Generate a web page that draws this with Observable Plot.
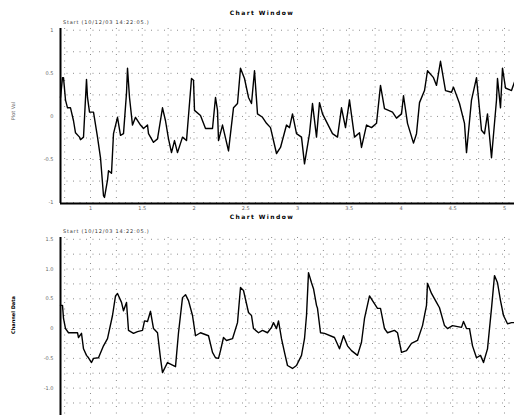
<!DOCTYPE html>
<html><head><meta charset="utf-8">
<script src="https://cdn.jsdelivr.net/npm/d3@7"></script>
<script src="https://cdn.jsdelivr.net/npm/@observablehq/plot@0.6"></script>
<style>
body{margin:0;background:#fff;width:514px;height:415px;overflow:hidden;font-family:"DejaVu Sans",sans-serif;}
#wrap{position:relative;width:514px;height:415px;overflow:hidden;}
#wrap svg{position:absolute;left:0;}
.title{position:absolute;left:5px;width:514px;text-align:center;font-size:6px;font-weight:bold;letter-spacing:1.4px;color:#000;}
.hdr{position:absolute;left:63px;font-size:5px;color:#333;letter-spacing:0.8px;white-space:nowrap;}
.ylab{position:absolute;font-size:5px;transform:rotate(-90deg);transform-origin:center;white-space:nowrap;text-align:center;width:60px;}
</style></head>
<body><div id="wrap"></div>
<script>
// ---- data (sample index, value) ----
const topSample = [0,2,3,5,7,10,13,15,19,20,23,26,27,29,33,37,40,43,44,47,48,51,53,57,60,63,66,67,69,72,75,80,83,87,88,93,97,102,105,108,111,114,117,122,126,131,133,134,140,145,152,155,157,158,162,168,173,177,180,184,188,191,194,197,202,206,210,216,220,226,229,232,236,241,244,249,252,256,259,262,272,277,281,285,289,294,299,301,306,311,316,320,324,332,336,341,343,347,353,356,359,364,367,373,376,380,385,391,393,399,404,406,411,416,421,424,427,431,436,437,440,442,445,451,454];
const topValue = [0.22,0.45,0.45,0.19,0.10,0.10,-0.05,-0.19,-0.24,-0.27,-0.24,0.43,0.22,0.05,0.05,-0.24,-0.48,-0.92,-0.94,-0.74,-0.63,-0.66,-0.20,-0.01,-0.22,-0.20,0.27,0.56,0.22,-0.10,-0.01,-0.10,-0.14,-0.10,-0.20,-0.30,-0.26,0.10,-0.05,-0.26,-0.42,-0.28,-0.42,-0.24,-0.28,0.44,0.42,0.07,0.01,-0.14,-0.14,0.22,0.07,-0.28,-0.10,-0.40,0.10,0.15,0.56,0.44,0.22,0.15,0.53,0.03,-0.01,-0.08,-0.13,-0.43,-0.36,-0.10,-0.13,0.03,-0.20,-0.24,-0.55,-0.20,0.15,-0.24,0.16,0.03,-0.20,-0.24,0.10,-0.13,0.19,-0.24,-0.19,-0.36,-0.10,-0.13,-0.08,0.36,0.09,0.05,-0.02,0.03,0.24,-0.08,-0.31,-0.20,0.16,0.30,0.53,0.45,0.36,0.64,0.30,0.28,0.34,0.15,-0.08,-0.42,0.19,0.45,-0.16,-0.20,0.03,-0.48,0.19,0.44,0.10,0.56,0.33,0.30,0.40];

const bottomSample = [0,2,3,5,8,17,18,21,23,26,28,31,33,38,43,47,52,55,57,61,63,66,68,73,77,82,84,87,90,93,97,100,102,107,115,118,122,125,128,132,135,140,148,152,155,158,160,163,166,172,177,180,183,188,191,193,198,202,207,211,213,216,218,221,224,227,232,236,241,244,246,248,251,253,256,257,260,264,274,279,283,287,291,297,301,304,309,312,317,320,324,327,334,337,341,346,351,357,362,366,367,371,376,379,384,387,392,401,403,406,409,412,416,420,423,427,431,434,437,440,443,447,451,454];
const bottomValue = [0.39,0.39,0.17,0,-0.07,-0.07,-0.15,-0.08,-0.34,-0.45,-0.49,-0.57,-0.50,-0.49,-0.29,-0.17,0.22,0.55,0.59,0.44,0.30,0.44,-0.03,-0.08,-0.05,-0.03,0.13,0.12,0.29,0,-0.07,-0.50,-0.74,-0.57,-0.64,-0.07,0.52,0.57,0.47,0.22,-0.12,-0.07,-0.12,-0.40,-0.49,-0.50,-0.37,-0.15,-0.20,-0.17,0.10,0.69,0.64,0.27,0.22,0,-0.07,-0.03,-0.07,0.02,0.10,0,0.13,-0.17,-0.40,-0.62,-0.67,-0.62,-0.45,-0.17,0.22,0.94,0.77,0.67,0.39,0.34,-0.07,-0.08,-0.15,-0.34,-0.12,-0.29,-0.37,-0.45,-0.23,0.17,0.55,0.47,0.34,0.34,0,-0.07,-0.03,-0.07,-0.40,-0.37,-0.25,-0.20,0.05,0.39,0.76,0.59,0.44,0.35,0.05,0,0.05,0.02,0.12,0,0,-0.29,-0.49,-0.45,-0.57,-0.34,0.34,0.89,0.77,0.47,0.22,0.08,0.10,0.10];

const xTickPos = [30, 81.75, 133.5, 185.25, 237, 288.75, 340.5, 392.25, 444];
const xTickLabels = ["1","1.5","2","2.5","3","3.5","4","4.5","5"];
const topYTicks = [1, 0.5, 0, -0.5, -1];
const topYLabels = ["1","0.5","0","-0.5","-1"];
const bottomYTicks = [1.5, 1, 0.5, 0, -0.5, -1];
const bottomYLabels = ["1.5","1.0","0.5","0","-0.5","-1.0"];
const titles = ["Chart Window", "Chart Window"];
const headers = ["Start  (10/12/03 14:22:05.)", "Start  (10/12/03 14:22:05.)"];
const yTitles = ["Plot Val", "Channel Data"];

// ---- build ----
const topData = topSample.map((s, i) => ({s, v: topValue[i]}));
const bottomData = bottomSample.map((s, i) => ({s, v: bottomValue[i]}));
const xLab = new Map(xTickPos.map((p, i) => [p, xTickLabels[i]]));
const tyLab = new Map(topYTicks.map((p, i) => [p, topYLabels[i]]));
const byLab = new Map(bottomYTicks.map((p, i) => [p, bottomYLabels[i]]));
const xStep = (xTickPos[1] - xTickPos[0]) / 2;
const xGrid = d3.range(xTickPos[0] - xStep, 454, xStep).filter(d => d > 0);
const xDomain = [0, 454];
const topDom = [-1.01, 1.02];
const botDom = [-1.46, 1.53];
const gridStyle = {stroke: "#000", strokeOpacity: 0.45, strokeDasharray: "1,5.5", strokeWidth: 1};

const chartTop = Plot.plot({
  width: 514, height: 215,
  marginLeft: 60, marginRight: 0, marginTop: 28, marginBottom: 12,
  style: {background: "transparent", overflow: "visible", fontFamily: "DejaVu Sans"},
  x: {domain: xDomain}, y: {domain: topDom},
  marks: [
    Plot.gridX(xGrid, gridStyle),
    Plot.gridY(d3.range(-1, 1.01, 0.25), gridStyle),
    Plot.axisX(xTickPos, {tickFormat: d => xLab.get(d), tickSize: 0, tickPadding: 3, fontSize: 5, fill: "#666", label: null}),
    Plot.axisY(topYTicks, {tickFormat: d => tyLab.get(d), tickSize: 0, tickPadding: 7, fontSize: 5, fill: "#666", label: null}),
    Plot.line(topData, {x: "s", y: "v", stroke: "#000", strokeWidth: 1.4}),
    Plot.ruleX([xDomain[0]], {stroke: "#000", strokeWidth: 2}),
    Plot.ruleY([topDom[0]], {stroke: "#000", strokeWidth: 2})
  ]
});
chartTop.style.top = "0px";

const chartBottom = Plot.plot({
  width: 514, height: 200,
  marginLeft: 60, marginRight: 0, marginTop: 22, marginBottom: 0,
  style: {background: "transparent", overflow: "visible", fontFamily: "DejaVu Sans"},
  x: {domain: xDomain, axis: null}, y: {domain: botDom},
  marks: [
    Plot.gridX(xGrid, gridStyle),
    Plot.gridY(d3.range(-1.25, 1.51, 0.25), gridStyle),
    Plot.axisY(bottomYTicks, {tickFormat: d => byLab.get(d), tickSize: 0, tickPadding: 7, fontSize: 5, fill: "#666", label: null}),
    Plot.line(bottomData, {x: "s", y: "v", stroke: "#000", strokeWidth: 1.4}),
    Plot.ruleX([xDomain[0]], {stroke: "#000", strokeWidth: 2})
  ]
});
chartBottom.style.top = "215px";

const wrap = document.getElementById("wrap");
wrap.appendChild(chartTop);
wrap.appendChild(chartBottom);

function addDiv(cls, text, css) {
  const d = document.createElement("div");
  d.className = cls; d.textContent = text;
  Object.assign(d.style, css);
  wrap.appendChild(d);
}
addDiv("title", titles[0], {top: "9px"});
addDiv("title", titles[1], {top: "213px"});
addDiv("hdr", headers[0], {top: "19px"});
addDiv("hdr", headers[1], {top: "228px"});
addDiv("ylab", yTitles[0], {left: "-17px", top: "108px", color: "#666"});
addDiv("ylab", yTitles[1], {left: "-17px", top: "312px", color: "#000", fontWeight: "bold"});
</script>
</body></html>
